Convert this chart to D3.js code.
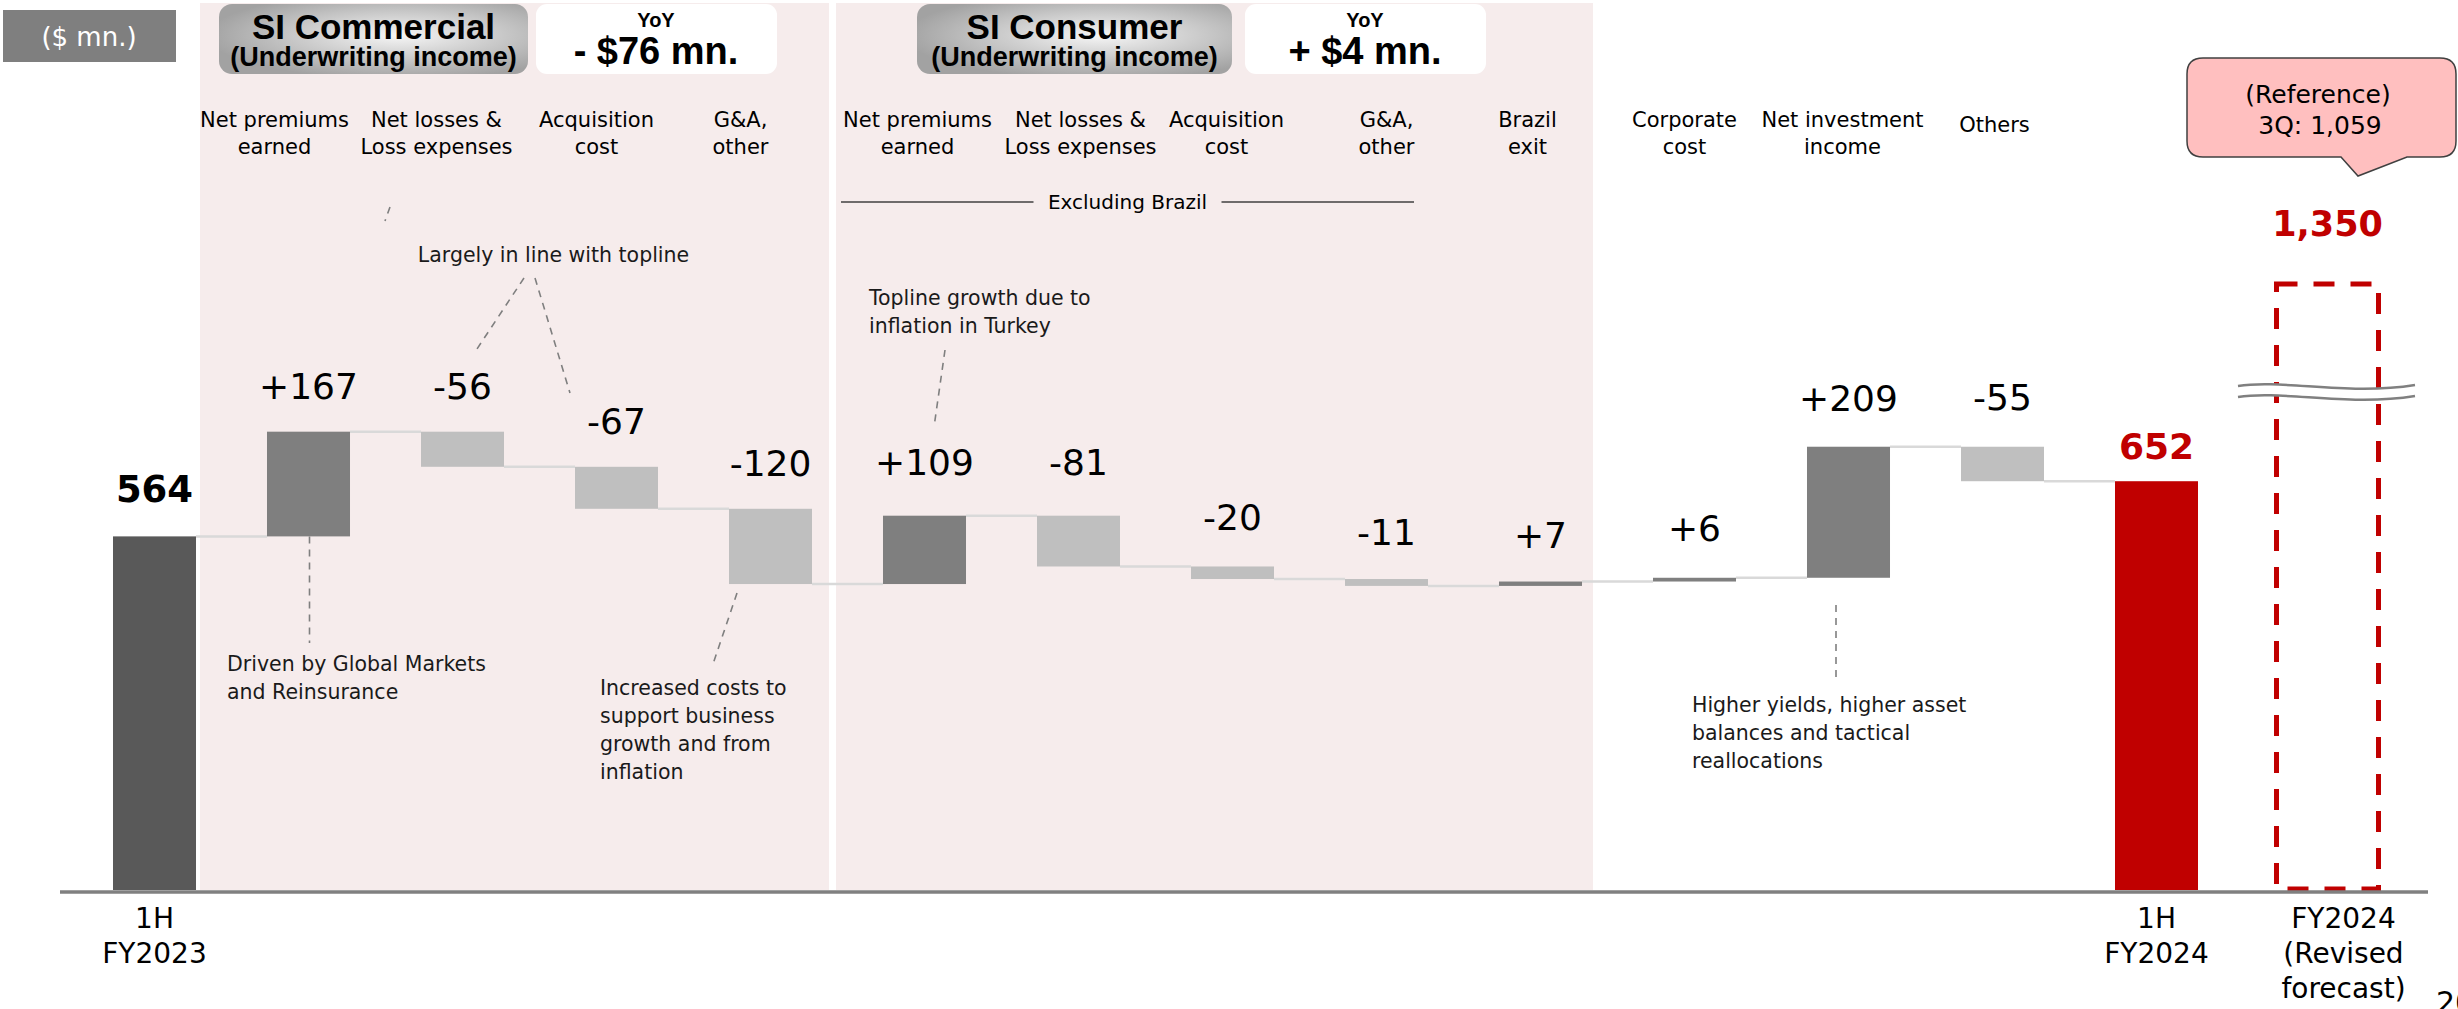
<!DOCTYPE html>
<html>
<head>
<meta charset="utf-8">
<script src="https://cdn.jsdelivr.net/npm/d3@7"></script>
<style>
  body { margin: 0; background: #fff; }
  svg { display: block; }
  text { font-family: "DejaVu Sans", Verdana, sans-serif; }
  .hdr { font-family: "Liberation Sans", Arial, sans-serif; font-weight: bold; }
</style>
</head>
<body>
<svg id="chart" width="2458" height="1009"></svg>
<script>
// ---- data ----
var steps = ["1H FY2023", "C npe", "C loss", "C acq", "C ga", "S npe", "S loss", "S acq", "S ga", "S brazil",
             "Corporate", "NII", "Others", "1H FY2024", "FY2024 forecast"];
var startValue = 564;
var deltas = [167, -56, -67, -120, 109, -81, -20, -11, 7, 6, 209, -55];
var endValue = 652;
var forecastValue = 1350;
var reference3Q = 1059;

var topLabels = [[], ["Net premiums", "earned"], ["Net losses &", "Loss expenses"], ["Acquisition", "cost"], ["G&A,", "other"],
                 ["Net premiums", "earned"], ["Net losses &", "Loss expenses"], ["Acquisition", "cost"], ["G&A,", "other"],
                 ["Brazil", "exit"], ["Corporate", "cost"], ["Net investment", "income"], ["Others"], [], []];
var bottomLabels = [["1H", "FY2023"], [], [], [], [], [], [], [], [], [], [], [], [], ["1H", "FY2024"], ["FY2024", "(Revised", "forecast)"]];

var segmentTitles = [["SI Commercial", "(Underwriting income)"], ["SI Consumer", "(Underwriting income)"]];
var segmentYoY = ["- $76 mn.", "+ $4 mn."];

var notes = [
  ["Largely in line with topline"],
  ["Driven by Global Markets", "and Reinsurance"],
  ["Increased costs to", "support business", "growth and from", "inflation"],
  ["Topline growth due to", "inflation in Turkey"],
  ["Higher yields, higher asset", "balances and tactical", "reallocations"]
];

// ---- scales ----
var svg = d3.select('#chart');
var x = d3.scaleBand().domain(steps).range([77.5, 77.5 + 154 * steps.length]).paddingInner(0.461).paddingOuter(0.2305);
var bw = x.bandwidth();
var y = d3.scaleLinear().domain([0, 760, 1350]).range([890, 413.5, 284]);
var cx = function (i) { return x(steps[i]) + bw / 2; };
var fmt = d3.format(",");
var signed = function (v) { return (v >= 0 ? '+' : '-') + Math.abs(v); };

// build waterfall rows
var rows = [{ i: 0, y0: 0, y1: startValue, kind: 'start', v: startValue }];
var run = startValue;
deltas.forEach(function (d, k) {
  rows.push({ i: k + 1, y0: run, y1: run + d, kind: d >= 0 ? 'up' : 'down', v: d });
  run += d;
});
rows.push({ i: 13, y0: 0, y1: endValue, kind: 'end', v: endValue });
var fill = { start: '#595959', up: '#7f7f7f', down: '#bfbfbf', end: '#c00000' };

// ---- background panels ----
var bg = svg.append('g');
bg.append('rect').attr('x', x(steps[1]) - 67).attr('y', 3).attr('width', (x(steps[5]) - 54) - (x(steps[1]) - 67)).attr('height', 887).attr('fill', '#f6ecec');
bg.append('rect').attr('x', x(steps[5]) - 47).attr('y', 3).attr('width', (x(steps[10]) - 60) - (x(steps[5]) - 47)).attr('height', 887).attr('fill', '#f6ecec');

// ($ mn.) tag
svg.append('rect').attr('x', 3).attr('y', 10).attr('width', 173).attr('height', 52).attr('fill', '#7f7f7f');
svg.append('text').attr('x', 89).attr('y', 46).attr('text-anchor', 'middle').attr('fill', '#fff').attr('font-size', 26).text('($ mn.)');

// segment headers
var defs = svg.append('defs');
var grad = defs.append('radialGradient').attr('id', 'hdr').attr('cx', '58%').attr('cy', '45%').attr('r', '62%');
grad.append('stop').attr('offset', '0%').attr('stop-color', '#f6f6f6');
grad.append('stop').attr('offset', '100%').attr('stop-color', '#a2a2a2');

var hdrBoxes = [{ x: 219, w: 309, yx: 536 }, { x: 917, w: 315, yx: 1245 }];
hdrBoxes.forEach(function (b, k) {
  var g = svg.append('g');
  g.append('rect').attr('x', b.x).attr('y', 4).attr('width', b.w).attr('height', 70).attr('rx', 13).attr('fill', 'url(#hdr)');
  g.append('text').attr('class', 'hdr').attr('x', b.x + b.w / 2).attr('y', 39).attr('text-anchor', 'middle').attr('font-size', 35).text(segmentTitles[k][0]);
  g.append('text').attr('class', 'hdr').attr('x', b.x + b.w / 2).attr('y', 66).attr('text-anchor', 'middle').attr('font-size', 27).text(segmentTitles[k][1]);
  g.append('rect').attr('x', b.yx).attr('y', 4).attr('width', 241).attr('height', 70).attr('rx', 11).attr('fill', '#fff');
  g.append('text').attr('class', 'hdr').attr('x', b.yx + 120).attr('y', 27).attr('text-anchor', 'middle').attr('font-size', 20).text('YoY');
  g.append('text').attr('class', 'hdr').attr('x', b.yx + 120).attr('y', 64).attr('text-anchor', 'middle').attr('font-size', 38).text(segmentYoY[k]);
});

// top category labels
var labelShift = [0, -34, -26, -20, -30, -7, 2, -6, 0, -13, -10, -6, -8, 0, 0];
topLabels.forEach(function (lines, i) {
  if (!lines.length) return;
  var px = cx(i) + labelShift[i];
  var t = svg.append('text').attr('text-anchor', 'middle').attr('font-size', 21)
    .attr('y', lines.length === 1 ? 132 : 127);
  lines.forEach(function (l, j) {
    t.append('tspan').attr('x', px).attr('dy', j ? 27 : 0).text(l);
  });
});

// Excluding Brazil bracket
var exL = x(steps[5]) - 42, exR = x(steps[8]) + bw - 14, exM = (exL + exR) / 2;
svg.append('line').attr('x1', exL).attr('x2', exM - 94).attr('y1', 202).attr('y2', 202).attr('stroke', '#404040').attr('stroke-width', 1.5);
svg.append('line').attr('x1', exM + 94).attr('x2', exR).attr('y1', 202).attr('y2', 202).attr('stroke', '#404040').attr('stroke-width', 1.5);
svg.append('text').attr('x', exM).attr('y', 209).attr('text-anchor', 'middle').attr('font-size', 20).text('Excluding Brazil');

// ---- connectors ----
svg.append('g').selectAll('line').data(rows.slice(0, -1)).join('line')
  .attr('x1', function (d) { return x(steps[d.i]) + bw; })
  .attr('x2', function (d) { return x(steps[d.i + 1]); })
  .attr('y1', function (d) { return y(d.y1); })
  .attr('y2', function (d) { return y(d.y1); })
  .attr('stroke', '#d9d9d9').attr('stroke-width', 2.5);

// ---- bars ----
svg.append('g').selectAll('rect').data(rows).join('rect')
  .attr('x', function (d) { return x(steps[d.i]); })
  .attr('width', bw)
  .attr('y', function (d) { return y(Math.max(d.y0, d.y1)); })
  .attr('height', function (d) { return Math.abs(y(d.y0) - y(d.y1)); })
  .attr('fill', function (d) { return fill[d.kind]; });

// value labels
var labelGap = [34, 33, 33, 33, 33, 41, 41, 36, 34, 34, 37, 36, 37, 22];
svg.append('g').selectAll('text').data(rows).join('text')
  .attr('x', function (d) { return cx(d.i); })
  .attr('y', function (d) { return y(Math.max(d.y0, d.y1)) - labelGap[d.i]; })
  .attr('text-anchor', 'middle')
  .attr('font-size', function (d) { return d.kind === 'start' ? 37 : 36; })
  .attr('font-weight', function (d) { return (d.kind === 'start' || d.kind === 'end') ? 'bold' : 'normal'; })
  .attr('fill', function (d) { return d.kind === 'end' ? '#c00000' : '#000'; })
  .text(function (d) { return (d.kind === 'up' || d.kind === 'down') ? signed(d.v) : fmt(d.v); });

// ---- forecast (broken) bar ----
var fx = cx(14) + 17 - 51, fw = 102;
svg.append('rect').attr('x', fx).attr('y', y(forecastValue)).attr('width', fw).attr('height', y(0) - y(forecastValue) - 1)
  .attr('fill', 'none').attr('stroke', '#c00000').attr('stroke-width', 5).attr('stroke-dasharray', '21 16');
svg.append('text').attr('x', fx + fw / 2).attr('y', y(forecastValue) - 48).attr('text-anchor', 'middle')
  .attr('font-size', 35).attr('font-weight', 'bold').attr('fill', '#c00000').text(fmt(forecastValue));

// break marks
var brk = svg.append('g');
var bx0 = 2238, bx1 = 2415, by = 386;
var wave = function (o) { return 'M' + bx0 + ',' + (by + o) + ' C' + (bx0 + 45) + ',' + (by + o - 7) + ' ' + (bx0 + 110) + ',' + (by + o + 10) + ' ' + bx1 + ',' + (by + o - 1); };
brk.append('path').attr('d', wave(0) + ' L' + bx1 + ',' + (by + 10) + ' C' + (bx0 + 110) + ',' + (by + 21) + ' ' + (bx0 + 45) + ',' + (by + 4) + ' ' + bx0 + ',' + (by + 11) + ' Z')
  .attr('fill', '#fff');
brk.append('path').attr('d', wave(0)).attr('fill', 'none').attr('stroke', '#808080').attr('stroke-width', 2.5);
brk.append('path').attr('d', wave(11)).attr('fill', 'none').attr('stroke', '#808080').attr('stroke-width', 2.5);

// reference callout
svg.append('path')
  .attr('d', 'M2203,58 H2440 Q2456,58 2456,74 V141 Q2456,157 2440,157 H2407 L2358,176 L2341,157 H2203 Q2187,157 2187,141 V74 Q2187,58 2203,58 Z')
  .attr('fill', '#ffbfbf').attr('stroke', '#404040').attr('stroke-width', 1.5);
svg.append('text').attr('x', 2318).attr('y', 103).attr('text-anchor', 'middle').attr('font-size', 25).text('(Reference)');
svg.append('text').attr('x', 2320).attr('y', 134).attr('text-anchor', 'middle').attr('font-size', 25).text('3Q: ' + fmt(reference3Q));

// ---- axis ----
svg.append('line').attr('x1', 60).attr('x2', 2428).attr('y1', 892).attr('y2', 892).attr('stroke', '#808080').attr('stroke-width', 3.5);

bottomLabels.forEach(function (lines, i) {
  if (!lines.length) return;
  var px = i === 14 ? cx(i) + 33 : cx(i);
  var t = svg.append('text').attr('text-anchor', 'middle').attr('font-size', 28).attr('y', 928);
  lines.forEach(function (l, j) {
    t.append('tspan').attr('x', px).attr('dy', j ? 35 : 0).text(l);
  });
});

// ---- annotations ----
var dash = function (x1, y1, x2, y2) {
  svg.append('line').attr('x1', x1).attr('y1', y1).attr('x2', x2).attr('y2', y2)
    .attr('stroke', '#7f7f7f').attr('stroke-width', 1.6).attr('stroke-dasharray', '7 6');
};
var note = function (k, px, py, anchor) {
  var t = svg.append('text').attr('font-size', 20.5).attr('fill', '#1a1a1a').attr('text-anchor', anchor || 'start').attr('y', py);
  notes[k].forEach(function (l, j) {
    t.append('tspan').attr('x', px).attr('dy', j ? 28 : 0).text(l);
  });
};

note(0, (cx(2) + cx(3)) / 2 + 14, 262, 'middle');
dash(524, 278, 475, 352);
dash(535, 278, 570, 393);
dash(390, 207, 385, 221);

note(1, 227, 671);
dash(cx(1) + 1, y(startValue), cx(1) + 1, 643);

note(2, 600, 695);
dash(737, 593, 712, 667);

note(3, 869, 305);
dash(945, 350, 934, 427);

note(4, 1692, 712);
dash(1836, 605, 1836, 678);

// page number (cut off at the edge, as on the slide)
svg.append('text').attr('x', 2436).attr('y', 1013).attr('font-size', 30).text('20');
</script>
</body>
</html>
